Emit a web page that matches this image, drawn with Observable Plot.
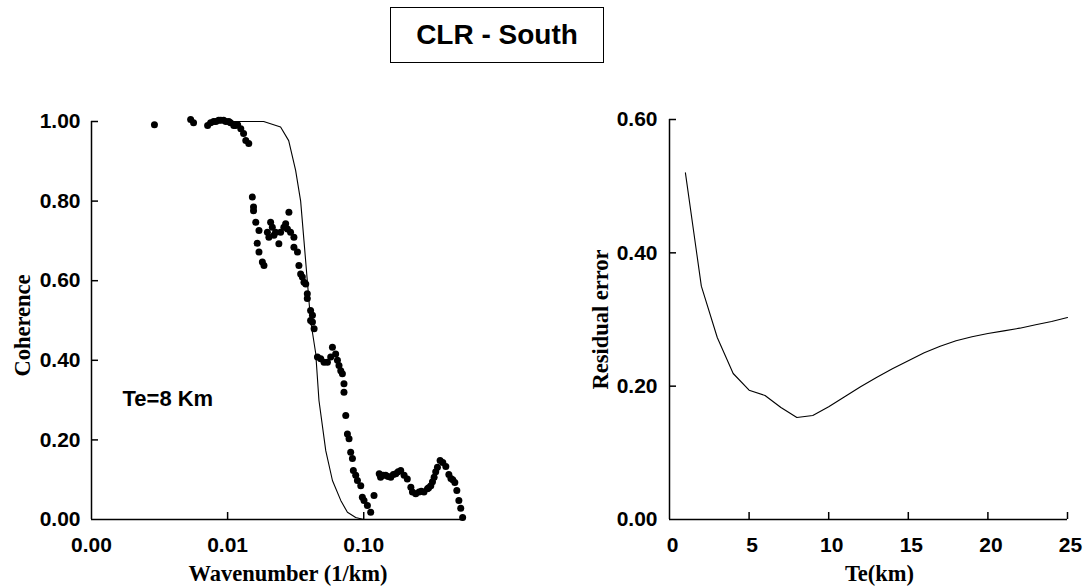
<!DOCTYPE html>
<html><head><meta charset="utf-8">
<script src="https://cdn.jsdelivr.net/npm/d3@7"></script>
<script src="https://cdn.jsdelivr.net/npm/@observablehq/plot@0.6"></script>
<style>
body{margin:0;background:#fff;}
#wrap{position:relative;width:1090px;height:586px;overflow:hidden;background:#fff;font-family:"Liberation Sans",Arial,sans-serif;color:#000;}
#title{position:absolute;left:390px;top:7px;width:212px;height:54px;border:1.5px solid #000;display:flex;align-items:center;justify-content:center;font-weight:bold;font-size:28px;}
#left{position:absolute;left:0;top:100px;}
#right{position:absolute;left:540px;top:100px;}
</style></head><body>
<div id="wrap"><div id="title"></div><div id="left"></div><div id="right"></div></div>
<script>
const title = "CLR - South";
const annotation = "Te=8 Km";
const leftXLabel = "Wavenumber (1/km)";
const leftYLabel = "Coherence";
const rightXLabel = "Te(km)";
const rightYLabel = "Residual error";

// theoretical coherence curve (Te = 8 km)
const curveK = [0.0075, 0.0184, 0.0245, 0.0281, 0.0316, 0.0344, 0.0364, 0.0385, 0.0407, 0.0444, 0.0469, 0.0526, 0.0589, 0.0678, 0.0759, 0.0873, 0.1];
const curveC = [1.0, 1.0, 0.986, 0.952, 0.877, 0.80, 0.70, 0.60, 0.50, 0.417, 0.299, 0.173, 0.098, 0.048, 0.018, 0.005, 0.0];

// observed coherence
const dotK = [0.0029, 0.00535, 0.00562, 0.00713, 0.0075, 0.00789, 0.0082, 0.00859, 0.0089, 0.00935, 0.0097, 0.0102, 0.0105, 0.0111, 0.01145, 0.01185, 0.0125, 0.0131, 0.0136, 0.0143,
  0.0152, 0.0155, 0.0155, 0.0161, 0.0170, 0.0165, 0.0170, 0.0180, 0.0185, 0.0196, 0.0207, 0.0213, 0.0201, 0.0219, 0.0225, 0.0238, 0.0245, 0.0259, 0.0267, 0.0282, 0.0275, 0.0290, 0.0307, 0.0307, 0.0326,
  0.0334, 0.0344, 0.0354, 0.0364, 0.0375, 0.0385, 0.0385, 0.0407, 0.0420, 0.0407, 0.0420, 0.0432,
  0.0457, 0.0483, 0.0511, 0.0541, 0.0572, 0.0589, 0.0622, 0.0641, 0.0658, 0.0678, 0.0697, 0.0716, 0.0716, 0.0738, 0.0759, 0.078, 0.0802, 0.0826, 0.0839, 0.0873, 0.0899, 0.0951, 0.0977, 0.1005, 0.1064, 0.1125,
  0.119, 0.130, 0.133, 0.139, 0.145, 0.151, 0.158, 0.165, 0.172, 0.179, 0.187, 0.198, 0.209, 0.222, 0.228, 0.241, 0.255, 0.265, 0.277, 0.294, 0.30, 0.311, 0.32, 0.329, 0.338, 0.348, 0.364,
  0.381, 0.401, 0.422, 0.437, 0.451, 0.467, 0.483, 0.500, 0.516, 0.533];
const dotC = [0.992, 1.005, 0.997, 0.99, 0.997, 1.0, 1.0, 1.003, 1.003, 1.003, 1.0, 1.0, 0.997, 0.99, 0.99, 0.992, 0.982, 0.97, 0.952, 0.945,
  0.81, 0.785, 0.776, 0.747, 0.726, 0.694, 0.672, 0.647, 0.638, 0.722, 0.747, 0.734, 0.709, 0.714, 0.722, 0.693, 0.722, 0.734, 0.743, 0.772, 0.73, 0.722, 0.709, 0.684, 0.672,
  0.638, 0.617, 0.609, 0.596, 0.592, 0.567, 0.555, 0.525, 0.513, 0.50, 0.496, 0.479,
  0.408, 0.404, 0.395, 0.395, 0.408, 0.433, 0.416, 0.40, 0.387, 0.374, 0.366, 0.341, 0.32, 0.261, 0.215, 0.203, 0.169, 0.153, 0.123, 0.111, 0.098, 0.085, 0.056, 0.048, 0.035, 0.018,
  0.06, 0.115, 0.106, 0.111, 0.111, 0.108, 0.106, 0.113, 0.115, 0.12, 0.123, 0.111, 0.102, 0.081, 0.069, 0.065, 0.069, 0.071, 0.069, 0.077, 0.08, 0.085, 0.095, 0.106, 0.12, 0.131, 0.148,
  0.143, 0.133, 0.113, 0.103, 0.100, 0.093, 0.073, 0.048, 0.028, 0.005];

// residual error vs elastic thickness
const teKm = [1, 2, 3, 4, 5, 6, 7, 8, 9, 10, 11, 12, 13, 14, 15, 16, 17, 18, 19, 20, 21, 22, 23, 24, 25];
const residual = [0.52, 0.35, 0.273, 0.219, 0.194, 0.186, 0.168, 0.153, 0.156, 0.169, 0.184, 0.199, 0.213, 0.226, 0.238, 0.250, 0.260, 0.268, 0.274, 0.279, 0.283, 0.287, 0.292, 0.297, 0.303];

const waveTicks = [0.001, 0.01, 0.1];
const coherenceTicks = [0, 0.2, 0.4, 0.6, 0.8, 1.0];
const teTicks = [0, 5, 10, 15, 20, 25];
const residualTicks = [0, 0.2, 0.4, 0.6];

document.getElementById("title").textContent = title;

const sans = "'Liberation Sans', Arial, sans-serif";
const serif = "'Liberation Serif', 'Times New Roman', serif";
const baseStyle = {background: "white", color: "black", fontFamily: sans, fontSize: "21px", fontWeight: "bold", overflow: "visible"};
const tickText = {fontSize: 21, fontWeight: "bold", fontFamily: sans};
const labelText = {fontSize: 22.5, fontWeight: "bold", fontFamily: serif, fill: "black", textAnchor: "middle", lineAnchor: "middle"};
const TICK_PX = 7;

const curve = curveK.map((k, i) => ({k, c: curveC[i]}));
const dots = dotK.map((k, i) => ({k, c: dotC[i]}));
const resid = teKm.map((t, i) => ({t, r: residual[i]}));

// panel layouts and scale domains
const L = {width: 480, height: 486, marginLeft: 91, marginRight: 16, marginTop: 21, marginBottom: 67};
const R = {width: 550, height: 486, marginLeft: 129, marginRight: 23, marginTop: 19, marginBottom: 67};
const LX = [0.001, 0.55], LY = [0, 1], RX = [0, 25], RY = [0, 0.6];

// inward ticks: pixel length converted through a d3 twin of each Plot scale
function inwardTicks(p, xType, xDom, yDom, xs, ys) {
  const xr = [p.marginLeft, p.width - p.marginRight];
  const yr = [p.height - p.marginBottom, p.marginTop];
  const sx = (xType === "log" ? d3.scaleLog() : d3.scaleLinear()).domain(xDom).range(xr);
  const sy = d3.scaleLinear().domain(yDom).range(yr);
  const xEnd = sx.invert(xr[0] + TICK_PX);
  const yEnd = sy.invert(yr[0] - TICK_PX);
  return [
    Plot.ruleX(xs.slice(1), {x: d => d, y1: yDom[0], y2: yEnd, stroke: "black", strokeWidth: 1.5}),
    Plot.ruleY(ys.slice(1), {y: d => d, x1: xDom[0], x2: xEnd, stroke: "black", strokeWidth: 1.5})
  ];
}

const left = Plot.plot({
  ...L,
  style: baseStyle,
  x: {type: "log", domain: LX},
  y: {domain: LY},
  marks: [
    Plot.ruleY([LY[0]], {stroke: "black", strokeWidth: 1.5}),
    Plot.ruleX([LX[0]], {stroke: "black", strokeWidth: 1.5}),
    ...inwardTicks(L, "log", LX, LY, waveTicks, coherenceTicks),
    Plot.axisX({ticks: waveTicks, tickFormat: d3.format(".2f"), tickSize: 0, tickPadding: 18, label: null, ...tickText}),
    Plot.axisY({ticks: coherenceTicks, tickFormat: d3.format(".2f"), tickSize: 0, tickPadding: 11, label: null, ...tickText}),
    Plot.line(curve, {x: "k", y: "c", stroke: "black", strokeWidth: 1.1}),
    Plot.dot(dots, {x: "k", y: "c", r: 3.5, fill: "black", stroke: "none"}),
    Plot.text([annotation], {frameAnchor: "left", textAnchor: "start", dx: 31, dy: 78, fontSize: 22, fontWeight: "bold", fontFamily: sans, fill: "black"}),
    Plot.text([leftXLabel], {frameAnchor: "bottom", dx: 10, dy: 54, ...labelText}),
    Plot.text([leftYLabel], {frameAnchor: "left", rotate: -90, dx: -69, dy: 5, ...labelText})
  ]
});
document.getElementById("left").appendChild(left);

const right = Plot.plot({
  ...R,
  style: baseStyle,
  x: {domain: RX},
  y: {domain: RY},
  marks: [
    Plot.ruleY([RY[0]], {stroke: "black", strokeWidth: 1.5}),
    Plot.ruleX([RX[0]], {stroke: "black", strokeWidth: 1.5}),
    ...inwardTicks(R, "linear", RX, RY, teTicks, residualTicks),
    Plot.axisX({ticks: teTicks, tickFormat: d3.format("d"), tickSize: 0, tickPadding: 18, dx: 3, label: null, ...tickText}),
    Plot.axisY({ticks: residualTicks, tickFormat: d3.format(".2f"), tickSize: 0, tickPadding: 12, label: null, ...tickText}),
    Plot.line(resid, {x: "t", y: "r", stroke: "black", strokeWidth: 1.1}),
    Plot.text([rightXLabel], {frameAnchor: "bottom", dx: 11, dy: 54, ...labelText}),
    Plot.text([rightYLabel], {frameAnchor: "left", rotate: -90, dx: -69, dy: 0, ...labelText})
  ]
});
document.getElementById("right").appendChild(right);
</script>
</body></html>
